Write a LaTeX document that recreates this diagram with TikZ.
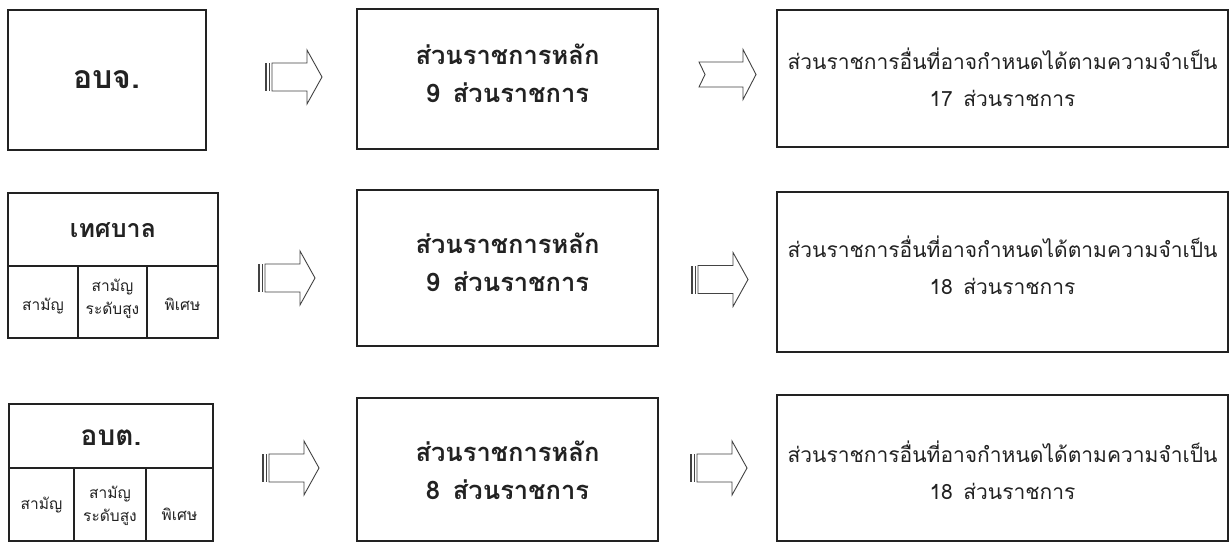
\documentclass[tikz,border=0pt]{standalone}
\usepackage{fontspec}
\newfontfamily\thai[Script=Thai]{Loma}
\definecolor{ink}{HTML}{222222}
\tikzset{
  box/.style={draw=ink, line width=1.7pt, rectangle, inner sep=0pt},
  lbl/.style={inner sep=0pt, align=center, text=ink},
  celltext/.style={lbl, font=\thai\fontsize{15.5}{19}\selectfont},
  btext/.style={lbl, font=\thai\bfseries\fontsize{25.5}{30}\selectfont},
  ctext/.style={lbl, font=\thai\fontsize{21}{25}\selectfont},
  arrowline/.style={draw=ink!85, line width=0.9pt, line join=miter, fill=white},
  pics/stripearrow/.style={code={
    \fill[ink!85] (0,-14) rectangle (1.8,14);
    \fill[ink!85] (3.5,-14) rectangle (5.3,14);
    \path[arrowline] (7,-14) -- (42,-14) -- (42,-27) -- (57,0) -- (42,27) -- (42,14) -- (7,14) -- cycle;
  }},
  pics/notcharrow/.style={code={
    \path[arrowline] (0,-12.5) -- (44,-12.5) -- (44,-25) -- (57,0) -- (44,25) -- (44,12.5) -- (0,12.5) -- (6,0) -- cycle;
  }},
}
\begin{document}
\begin{tikzpicture}[x=1pt,y=-1pt]
\useasboundingbox[fill=white] (0,0) rectangle (1230,543);

% Row 1
\node[box, minimum width=198pt, minimum height=140pt] (a1) at (107,80) {};
\node[lbl, font=\thai\bfseries\fontsize{32}{36}\selectfont] (a1t) at (107,80) {อบจ.};
\node[box, minimum width=301pt, minimum height=140pt] (b1) at (507.5,79) {};
\node[btext] (b1t) at (507.5,73) {ส่วนราชการหลัก\\[8pt]9\enspace ส่วนราชการ};
\node[box, minimum width=451pt, minimum height=137pt] (c1) at (1002.5,78.5) {};
\node[ctext] (c1t) at (1002.5,77) {ส่วนราชการอื่นที่อาจกำหนดได้ตามความจำเป็น\\[12pt]17\enspace ส่วนราชการ};
\pic at (265,77) {stripearrow};
\pic at (699,74.5) {notcharrow};

% Row 2
\node[box, minimum width=210pt, minimum height=73pt] (a2) at (113,229.5) {};
\node[lbl, font=\thai\bfseries\fontsize{25}{30}\selectfont] (a2t) at (113,230) {เทศบาล};
\node[box, minimum width=70pt, minimum height=72pt] (a2s) at (43,302) {};
\node[box, minimum width=69pt, minimum height=72pt] (a2h) at (112.5,302) {};
\node[box, minimum width=71pt, minimum height=72pt] (a2p) at (182.5,302) {};
\node[celltext] (a2st) at (43,306) {สามัญ};
\node[celltext] (a2ht) at (112.5,299) {สามัญ\\[4pt]ระดับสูง};
\node[celltext] (a2pt) at (182.5,304) {พิเศษ};
\node[box, minimum width=301pt, minimum height=156pt] (b2) at (507.5,268) {};
\node[btext] (b2t) at (507.5,262) {ส่วนราชการหลัก\\[8pt]9\enspace ส่วนราชการ};
\node[box, minimum width=451pt, minimum height=160pt] (c2) at (1002.5,272) {};
\node[ctext] (c2t) at (1002.5,265) {ส่วนราชการอื่นที่อาจกำหนดได้ตามความจำเป็น\\[12pt]18\enspace ส่วนราชการ};
\pic at (258,278) {stripearrow};
\pic at (691,279.5) {stripearrow};

% Row 3
\node[box, minimum width=204pt, minimum height=64pt] (a3) at (111,436) {};
\node[lbl, font=\thai\bfseries\fontsize{28}{32}\selectfont] (a3t) at (111,438) {อบต.};
\node[box, minimum width=65pt, minimum height=73pt] (a3s) at (41.5,504.5) {};
\node[box, minimum width=72pt, minimum height=73pt] (a3h) at (110,504.5) {};
\node[box, minimum width=67pt, minimum height=73pt] (a3p) at (179.5,504.5) {};
\node[celltext] (a3st) at (41.5,505) {สามัญ};
\node[celltext] (a3ht) at (110,506) {สามัญ\\[4pt]ระดับสูง};
\node[celltext] (a3pt) at (179.5,514) {พิเศษ};
\node[box, minimum width=301pt, minimum height=143pt] (b3) at (507.5,469.5) {};
\node[btext] (b3t) at (507.5,470) {ส่วนราชการหลัก\\[8pt]8\enspace ส่วนราชการ};
\node[box, minimum width=451pt, minimum height=146pt] (c3) at (1002.5,468) {};
\node[ctext] (c3t) at (1002.5,470) {ส่วนราชการอื่นที่อาจกำหนดได้ตามความจำเป็น\\[12pt]18\enspace ส่วนราชการ};
\pic at (262,468) {stripearrow};
\pic at (690,468) {stripearrow};
\end{tikzpicture}
\end{document}
